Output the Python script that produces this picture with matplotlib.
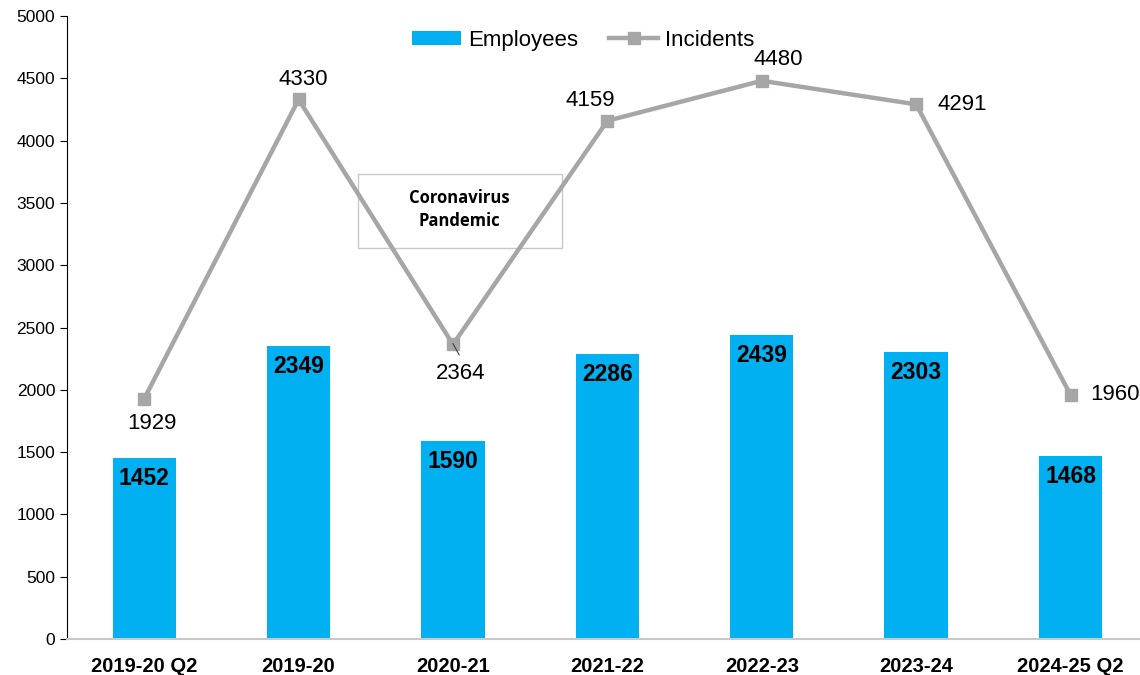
import matplotlib.pyplot as plt
import numpy as np
from matplotlib.patches import Rectangle

periods = ['2019-20 Q2', '2019-20', '2020-21', '2021-22', '2022-23', '2023-24', '2024-25 Q2']
employees = [1452, 2349, 1590, 2286, 2439, 2303, 1468]
incidents = [1929, 4330, 2364, 4159, 4480, 4291, 1960]

plt.rcParams['font.family'] = ['Liberation Sans', 'DejaVu Sans']

fig = plt.figure(figsize=(11.4, 6.75), dpi=100)
ax = fig.add_axes([0.0588, 0.0533, 0.9412, 0.923])

x = np.arange(len(periods))
bars = ax.bar(x, employees, width=0.41, color='#00B0F0', label='Employees', zorder=2)
line, = ax.plot(x, incidents, color='#A6A6A6', lw=3.2, marker='s', markersize=9,
                label='Incidents', zorder=3)

# values inside the top of each bar
for xi, v in zip(x, employees):
    ax.text(xi, v - 70, str(v), ha='center', va='top', fontsize=16.5,
            fontweight='bold', color='black', zorder=4)

# incident labels, placed around each marker
offsets = [(0.05, -200, 'center'), (0.03, 160, 'center'), (0.05, -230, 'center'),
           (-0.11, 160, 'center'), (0.11, 170, 'center'), (0.14, 0, 'left'),
           (0.13, 0, 'left')]
for xi, v, (dx, dy, ha) in zip(x, incidents, offsets):
    ax.text(xi + dx, v + dy, str(v), ha=ha, va='center', fontsize=16, color='black', zorder=4)

# pandemic callout
ax.add_patch(Rectangle((0.271, 0.628), 0.19, 0.118, transform=ax.transAxes,
                       facecolor='white', edgecolor='#C8C8C8', lw=1, zorder=1))
ax.text(0.366, 0.689, 'Coronavirus\nPandemic', transform=ax.transAxes, ha='center',
        va='center', fontsize=12, fontweight='bold', family=['Open Sans', 'DejaVu Sans'],
        linespacing=1.35, zorder=1)
ax.plot([2.0, 2.04], [2370, 2280], color='#404040', lw=0.8, zorder=4)

ax.set_xlim(-0.5, 6.45)
ax.set_ylim(0, 5000)
ax.set_yticks(range(0, 5001, 500))
ax.set_xticks(x)
ax.set_xticklabels(periods, fontsize=14.5, fontweight='bold')
ax.tick_params(axis='y', labelsize=12.5, length=5, direction='out')
ax.tick_params(axis='x', length=0, pad=13)

ax.spines['top'].set_visible(False)
ax.spines['right'].set_visible(False)
ax.spines['left'].set_color('black')
ax.spines['bottom'].set_color('#C8C8C8')
ax.spines['bottom'].set_linewidth(1.5)

ax.legend([bars, line], ['Employees', 'Incidents'], loc='center',
          bbox_to_anchor=(0.481, 0.961), ncol=2, frameon=False,
          fontsize=16, handlelength=2.2, handleheight=0.6, handletextpad=0.3,
          columnspacing=1.4)

fig.savefig('out.png', dpi=100)
